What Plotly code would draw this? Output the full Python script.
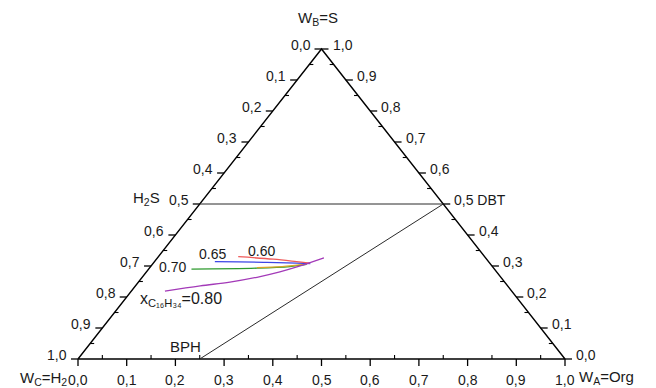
import plotly.graph_objects as go

# ---- data -------------------------------------------------------------
# tick values along each ternary side (mass fractions)
major_ticks = [0.0, 0.1, 0.2, 0.3, 0.4, 0.5, 0.6, 0.7, 0.8, 0.9, 1.0]
major_labels = ["0,0", "0,1", "0,2", "0,3", "0,4", "0,5", "0,6", "0,7", "0,8", "0,9", "1,0"]
minor_ticks = [0.05, 0.15, 0.25, 0.35, 0.45, 0.55, 0.65, 0.75, 0.85, 0.95]

# equilibrium curves, given as (W_A, W_B); W_C = 1 - W_A - W_B
x060_A = [0.164, 0.240, 0.292, 0.322]
x060_B = [0.330, 0.322, 0.314, 0.309]
x065_A = [0.124, 0.225, 0.295, 0.323]
x065_B = [0.314, 0.312, 0.309, 0.308]
x070_A = [0.088, 0.221, 0.286, 0.317]
x070_B = [0.290, 0.293, 0.298, 0.305]
x075_A = [0.220, 0.270, 0.317]
x075_B = [0.295, 0.298, 0.306]
x080_A = [0.069, 0.133, 0.188, 0.241, 0.274, 0.301, 0.321, 0.342]
x080_B = [0.219, 0.236, 0.248, 0.266, 0.281, 0.297, 0.311, 0.326]

# pure-component points on the sides (W_A, W_B)
H2S = (0.0, 0.5)
DBT = (0.5, 0.5)
BPH = (0.25, 0.0)

# ---- drawing helpers --------------------------------------------------
PX_X = 487.0   # pixels per unit along the base
PX_Y = 310.0   # pixels per unit of height
FONT = "Liberation Sans, Arial, sans-serif"


def to_xy(a, b):
    """Ternary (W_A, W_B) -> cartesian position in the triangle."""
    return a + b / 2.0, b


def xy_list(A, B):
    pts = [to_xy(a, b) for a, b in zip(A, B)]
    return [p[0] for p in pts], [p[1] for p in pts]


fig = go.Figure()

# triangle frame
fx, fy = xy_list([0, 1, 0, 0], [0, 0, 1, 0])
fig.add_trace(go.Scatter(x=fx, y=fy, mode="lines",
                         line=dict(color="black", width=1.4), hoverinfo="skip"))


# ticks: bottom (W_A), left (W_C), right (W_B)
def tick_segments(values, length, inward):
    xs, ys = [], []
    s = -1 if inward else 1
    for v in values:
        # bottom side: W_A = v, W_B = 0
        x0, y0 = to_xy(v, 0)
        xs += [x0, x0, None]
        ys += [y0, y0 - s * length / PX_Y, None]
        # left side: W_C = v, W_A = 0
        x0, y0 = to_xy(0, 1 - v)
        xs += [x0, x0 - s * length / PX_X, None]
        ys += [y0, y0, None]
        # right side: W_B = v, W_A = 1 - v
        x0, y0 = to_xy(1 - v, v)
        xs += [x0, x0 + s * length / PX_X, None]
        ys += [y0, y0, None]
    return xs, ys


tx, ty = tick_segments(major_ticks, 7, inward=False)
fig.add_trace(go.Scatter(x=tx, y=ty, mode="lines",
                         line=dict(color="black", width=1.3), hoverinfo="skip"))
tx, ty = tick_segments(minor_ticks, 4, inward=True)
fig.add_trace(go.Scatter(x=tx, y=ty, mode="lines",
                         line=dict(color="black", width=1.1), hoverinfo="skip"))

# tie lines H2S-DBT and BPH-DBT
for p, q in [(H2S, DBT), (BPH, DBT)]:
    lx, ly = xy_list([p[0], q[0]], [p[1], q[1]])
    fig.add_trace(go.Scatter(x=lx, y=ly, mode="lines",
                             line=dict(color="#2a2a2a", width=1), hoverinfo="skip"))

# equilibrium curves
curves = [
    (x070_A, x070_B, "#2e9a2e"),
    (x075_A, x075_B, "#d9a52a"),
    (x065_A, x065_B, "#3c46e6"),
    (x060_A, x060_B, "#ef5a5a"),
    (x080_A, x080_B, "#a33ab8"),
]
for A, B, col in curves:
    cx, cy = xy_list(A, B)
    fig.add_trace(go.Scatter(x=cx, y=cy, mode="lines",
                             line=dict(color=col, width=1.3, shape="spline"),
                             hoverinfo="skip"))

ann = []


def label(x, y, text, size=14, xanchor="center", xshift=0, yshift=0):
    ann.append(dict(x=x, y=y, xref="x", yref="y", text=text, showarrow=False,
                    xanchor=xanchor, yanchor="middle", xshift=xshift, yshift=yshift,
                    font=dict(family=FONT, size=size, color="#1a1a1a")))


# tick labels
for v, t in zip(major_ticks, major_labels):
    x0, y0 = to_xy(v, 0)
    label(x0, y0, t, yshift=-21)
    x0, y0 = to_xy(0, 1 - v)
    label(x0, y0, t, xanchor="right", xshift=-9, yshift=4)
    x0, y0 = to_xy(1 - v, v)
    label(x0, y0, t + (" DBT" if v == DBT[1] else ""), xanchor="left", xshift=9, yshift=4)

# vertex titles
x0, y0 = to_xy(0, 1)
label(x0, y0, "W<sub>B</sub>=S", size=15, xshift=-4, yshift=31)
x0, y0 = to_xy(0, 0)
label(x0, y0, "W<sub>C</sub>=H<sub>2</sub>", size=15, xanchor="right", xshift=-9, yshift=-19)
x0, y0 = to_xy(1, 0)
label(x0, y0, "W<sub>A</sub>=Org", size=15, xanchor="left", xshift=12, yshift=-18)

# component names
x0, y0 = to_xy(*H2S)
label(x0, y0, "H<sub>2</sub>S", size=15, xanchor="right", xshift=-38, yshift=6)
x0, y0 = to_xy(*BPH)
label(x0, y0, "BPH", size=15, xshift=-14, yshift=13)

# curve labels, placed next to the start of each curve
x0, y0 = to_xy(x060_A[0], x060_B[0])
label(x0, y0, "0.60", xshift=23, yshift=6)
x0, y0 = to_xy(x065_A[0], x065_B[0])
label(x0, y0, "0.65", xshift=-2, yshift=8)
x0, y0 = to_xy(x070_A[0], x070_B[0])
label(x0, y0, "0.70", xanchor="right", xshift=-3, yshift=2)
x0, y0 = to_xy(x080_A[0], x080_B[0])
label(x0, y0, "x<sub>C₁₆H₃₄</sub>=0.80", size=16, xanchor="left", xshift=-27, yshift=-8)

fig.update_layout(
    width=656, height=388,
    margin=dict(l=0, r=0, t=0, b=0),
    paper_bgcolor="white", plot_bgcolor="white",
    showlegend=False,
    xaxis=dict(range=[-78 / PX_X, 578 / PX_X], visible=False, fixedrange=True),
    yaxis=dict(range=[-29 / PX_Y, 359 / PX_Y], visible=False, fixedrange=True),
    annotations=ann,
)

fig.write_html("out.html")
